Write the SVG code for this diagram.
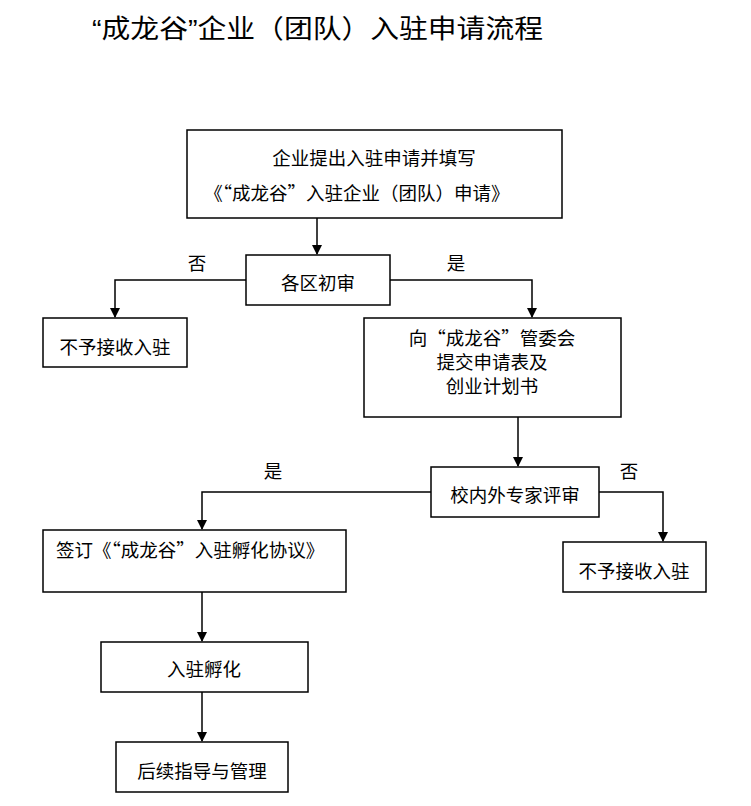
<svg xmlns="http://www.w3.org/2000/svg" width="751" height="806" viewBox="0 0 751 806">
<style>
.box{fill:#fff;stroke:#000;stroke-width:1.5}
.t{font-family:"Noto Sans CJK SC","Liberation Serif",serif;font-size:18.5px;fill:#000;text-anchor:middle;dominant-baseline:central}
.title{font-family:"Liberation Sans","Noto Sans CJK SC",sans-serif;font-size:26px;fill:#000}
.ln{fill:none;stroke:#000;stroke-width:1.5}
</style>
<defs>
<marker id="ah" markerWidth="10" markerHeight="10" refX="9" refY="5" orient="auto" markerUnits="userSpaceOnUse">
<path d="M0,0 L10,5 L0,10 Z" fill="#000"/>
</marker>
</defs>
<rect width="751" height="806" fill="#fff"/>
<text class="title" x="92" y="38" textLength="451" lengthAdjust="spacingAndGlyphs">“成龙谷”企业（团队）入驻申请流程</text>

<g id="connectors">
<path class="ln" d="M317,218 V254" marker-end="url(#ah)"/>
<path class="ln" d="M246,280 H115 V317" marker-end="url(#ah)"/>
<path class="ln" d="M390,280 H532 V317" marker-end="url(#ah)"/>
<path class="ln" d="M518,417 V466" marker-end="url(#ah)"/>
<path class="ln" d="M431,492 H202 V529" marker-end="url(#ah)"/>
<path class="ln" d="M599,492 H663 V541" marker-end="url(#ah)"/>
<path class="ln" d="M202,592 V641" marker-end="url(#ah)"/>
<path class="ln" d="M202,692 V741" marker-end="url(#ah)"/>
<text class="t" x="197" y="262">否</text>
<text class="t" x="456" y="262">是</text>
<text class="t" x="273" y="470">是</text>
<text class="t" x="629" y="470">否</text>
</g>

<g id="n1">
<rect class="box" x="187" y="130" width="375" height="88"/>
<text class="t" x="374" y="157">企业提出入驻申请并填写</text>
<text class="t" x="357" y="192">《“成龙谷”入驻企业（团队）申请》</text>
</g>
<g id="n2">
<rect class="box" x="246" y="255" width="144" height="50"/>
<text class="t" x="318" y="282">各区初审</text>
</g>
<g id="n3">
<rect class="box" x="43" y="318" width="144" height="49"/>
<text class="t" x="115" y="346">不予接收入驻</text>
</g>
<g id="n4">
<rect class="box" x="364" y="318" width="257" height="99"/>
<text class="t" x="492" y="337">向“成龙谷”管委会</text>
<text class="t" x="492" y="361">提交申请表及</text>
<text class="t" x="492" y="385">创业计划书</text>
</g>
<g id="n5">
<rect class="box" x="431" y="467" width="168" height="50"/>
<text class="t" x="515" y="494">校内外专家评审</text>
</g>
<g id="n6">
<rect class="box" x="43" y="530" width="303" height="62"/>
<text class="t" x="56" y="549" style="text-anchor:start">签订《“成龙谷”入驻孵化协议》</text>
</g>
<g id="n7">
<rect class="box" x="563" y="542" width="143" height="50"/>
<text class="t" x="634" y="570">不予接收入驻</text>
</g>
<g id="n8">
<rect class="box" x="101" y="642" width="207" height="50"/>
<text class="t" x="204" y="668">入驻孵化</text>
</g>
<g id="n9">
<rect class="box" x="116" y="742" width="172" height="50"/>
<text class="t" x="202" y="770">后续指导与管理</text>
</g>
</svg>
